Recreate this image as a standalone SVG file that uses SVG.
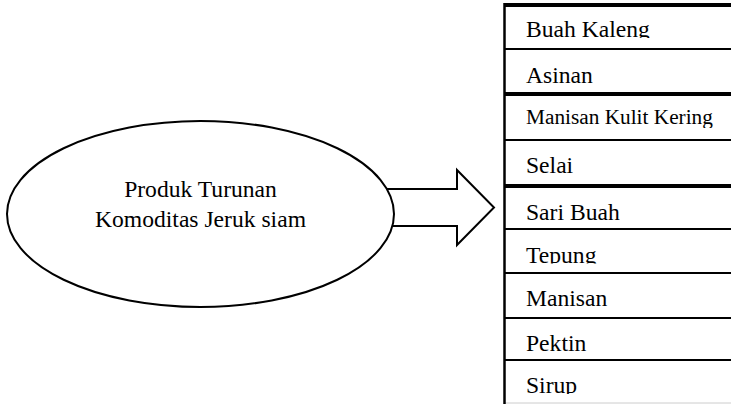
<svg xmlns="http://www.w3.org/2000/svg" width="731" height="404" viewBox="0 0 731 404">
  <style>
    .t { font-family: "Liberation Serif", "Times New Roman", serif; font-size: 23.6px; fill: #000; }
    .ts { font-family: "Liberation Serif", "Times New Roman", serif; font-size: 21.3px; fill: #000; }
    .thin { stroke: #000; stroke-width: 2; }
    .thick { stroke: #000; stroke-width: 4; }
  </style>
  <defs>
    <clipPath id="c1"><rect x="505" y="0" width="226" height="38"/></clipPath>
    <clipPath id="c3"><rect x="505" y="96" width="226" height="32"/></clipPath>
    <clipPath id="c6"><rect x="505" y="230" width="226" height="33.5"/></clipPath>
    <clipPath id="c9"><rect x="505" y="361" width="226" height="33"/></clipPath>
  </defs>
  <rect width="731" height="404" fill="#fff"/>

  <g id="connectors">
    <path d="M380 189 H457 V170 L494 207.5 L457 245 V226 H380" fill="#fff" stroke="#000" stroke-width="2" stroke-linejoin="miter"/>
  </g>

  <g id="source">
    <ellipse cx="200.5" cy="214" rx="193.5" ry="93" fill="#fff" stroke="#000" stroke-width="2"/>
    <text class="t" x="200.5" y="197" text-anchor="middle">Produk Turunan</text>
    <text class="t" x="200.5" y="227" text-anchor="middle">Komoditas Jeruk siam</text>
  </g>

  <g id="products">
    <line class="thick" x1="504" y1="5" x2="731" y2="5"/>
    <line class="thin" x1="504" y1="49" x2="731" y2="49"/>
    <line class="thick" x1="504" y1="94" x2="731" y2="94"/>
    <line class="thin" x1="504" y1="140" x2="731" y2="140"/>
    <line class="thick" x1="504" y1="186" x2="731" y2="186"/>
    <line class="thin" x1="504" y1="229" x2="731" y2="229"/>
    <line class="thin" x1="504" y1="273" x2="731" y2="273"/>
    <line class="thin" x1="504" y1="318" x2="731" y2="318"/>
    <line class="thin" x1="504" y1="360" x2="731" y2="360"/>
    <line x1="504" y1="403" x2="731" y2="403" stroke="#ccc" stroke-width="1"/>
    <line x1="504.5" y1="3" x2="504.5" y2="404" stroke="#000" stroke-width="2.5"/>
    <g id="p1" clip-path="url(#c1)"><text class="t" x="526" y="36.5">Buah Kaleng</text></g>
    <g id="p2"><text class="t" x="526" y="83.3">Asinan</text></g>
    <g id="p3" clip-path="url(#c3)"><text class="ts" x="526" y="124">Manisan Kulit Kering</text></g>
    <g id="p4"><text class="t" x="526" y="173">Selai</text></g>
    <g id="p5"><text class="t" x="526" y="220">Sari Buah</text></g>
    <g id="p6" clip-path="url(#c6)"><text class="t" x="526" y="263">Tepung</text></g>
    <g id="p7"><text class="t" x="526" y="306">Manisan</text></g>
    <g id="p8"><text class="t" x="526" y="351">Pektin</text></g>
    <g id="p9" clip-path="url(#c9)"><text class="t" x="526" y="393">Sirup</text></g>
  </g>
</svg>
